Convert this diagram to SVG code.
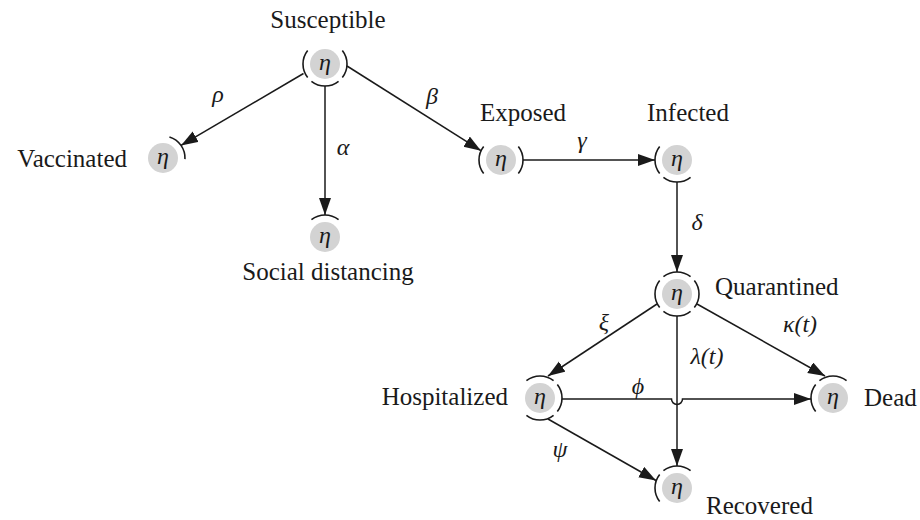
<svg xmlns="http://www.w3.org/2000/svg" width="920" height="520" viewBox="0 0 920 520">
<defs>
<style>
.lbl{font-family:"Liberation Serif","Times New Roman",serif;font-size:25px;fill:#1a1a1a}
.gr{font-family:"Liberation Serif","Times New Roman",serif;font-style:italic;font-size:24px;fill:#1a1a1a;text-anchor:middle}
.eta{font-family:"Liberation Serif","Times New Roman",serif;font-style:italic;font-size:24px;fill:#1a1a1a;text-anchor:middle}
.dot{fill:#d3d3d3}
.port{fill:none;stroke:#1a1a1a;stroke-width:1.6}
.edge{fill:none;stroke:#1a1a1a;stroke-width:1.5;marker-end:url(#ah)}
</style>
<marker id="ah" markerUnits="userSpaceOnUse" markerWidth="18" markerHeight="13" refX="17" refY="6" orient="auto">
<path d="M0,0 L17,6 L0,12 z" fill="#1a1a1a"/>
</marker>
<path id="port" d="M 17.34 -13.55 A 22 22 0 0 1 17.34 13.55"/>
</defs>

<g id="connectors">
<line class="edge" x1="303.5" y1="73.5" x2="181" y2="145.4"/>
<line class="edge" x1="325" y1="86" x2="325" y2="215"/>
<line class="edge" x1="347" y1="66" x2="481" y2="150.7"/>
<line class="edge" x1="523" y1="160" x2="655" y2="160"/>
<line class="edge" x1="677" y1="182" x2="677" y2="272"/>
<line class="edge" x1="657" y1="304" x2="548" y2="376"/>
<line class="edge" x1="697" y1="304" x2="825" y2="376"/>
<line class="edge" x1="677" y1="316" x2="677" y2="466"/>
<path class="edge" d="M 562 399 H 671.5 A 5.5 5.5 0 0 0 682.5 399 H 811"/>
<line class="edge" x1="548" y1="419" x2="656" y2="480.5"/>
<text class="gr" x="218" y="102">ρ</text>
<text class="gr" x="432" y="104">β</text>
<text class="gr" x="343" y="155">α</text>
<text class="gr" x="582" y="148">γ</text>
<text class="gr" x="697" y="230">δ</text>
<text class="gr" x="604" y="330">ξ</text>
<text class="gr" x="800" y="332">κ(t)</text>
<text class="gr" x="707" y="364">λ(t)</text>
<text class="gr" x="638" y="394">ϕ</text>
<text class="gr" x="560" y="457">ψ</text>
</g>

<g id="susceptible">
<circle class="dot" cx="325" cy="64" r="15"/>
<text class="eta" x="325" y="70">η</text>
<use href="#port" class="port" transform="translate(325,64) rotate(180)"/>
<use href="#port" class="port" transform="translate(325,64)"/>
<use href="#port" class="port" transform="translate(325,64) rotate(90)"/>
<text class="lbl" x="328" y="28" text-anchor="middle">Susceptible</text>
</g>

<g id="vaccinated">
<circle class="dot" cx="163" cy="158" r="15"/>
<text class="eta" x="163" y="164">η</text>
<use href="#port" class="port" transform="translate(163,158) rotate(-35)"/>
<text class="lbl" x="127" y="167" text-anchor="end">Vaccinated</text>
</g>

<g id="social-distancing">
<circle class="dot" cx="325" cy="237" r="15"/>
<text class="eta" x="325" y="243">η</text>
<use href="#port" class="port" transform="translate(325,237) rotate(-90)"/>
<text class="lbl" x="328" y="280" text-anchor="middle">Social distancing</text>
</g>

<g id="exposed">
<circle class="dot" cx="501" cy="160" r="15"/>
<text class="eta" x="501" y="166">η</text>
<use href="#port" class="port" transform="translate(501,160) rotate(180)"/>
<use href="#port" class="port" transform="translate(501,160)"/>
<text class="lbl" x="523" y="121" text-anchor="middle">Exposed</text>
</g>

<g id="infected">
<circle class="dot" cx="677" cy="160" r="15"/>
<text class="eta" x="677" y="166">η</text>
<use href="#port" class="port" transform="translate(677,160) rotate(180)"/>
<use href="#port" class="port" transform="translate(677,160) rotate(90)"/>
<text class="lbl" x="688" y="121" text-anchor="middle">Infected</text>
</g>

<g id="quarantined">
<circle class="dot" cx="677" cy="294" r="15"/>
<text class="eta" x="677" y="300">η</text>
<use href="#port" class="port" transform="translate(677,294) rotate(-90)"/>
<use href="#port" class="port" transform="translate(677,294) rotate(180)"/>
<use href="#port" class="port" transform="translate(677,294)"/>
<use href="#port" class="port" transform="translate(677,294) rotate(90)"/>
<text class="lbl" x="715" y="295">Quarantined</text>
</g>

<g id="hospitalized">
<circle class="dot" cx="540" cy="398" r="15"/>
<text class="eta" x="540" y="404">η</text>
<use href="#port" class="port" transform="translate(540,398) rotate(-90)"/>
<use href="#port" class="port" transform="translate(540,398)"/>
<use href="#port" class="port" transform="translate(540,398) rotate(90)"/>
<text class="lbl" x="508" y="405" text-anchor="end">Hospitalized</text>
</g>

<g id="dead">
<circle class="dot" cx="833" cy="398" r="15"/>
<text class="eta" x="833" y="404">η</text>
<use href="#port" class="port" transform="translate(833,398) rotate(-90)"/>
<use href="#port" class="port" transform="translate(833,398) rotate(180)"/>
<text class="lbl" x="864" y="406">Dead</text>
</g>

<g id="recovered">
<circle class="dot" cx="677" cy="488" r="15"/>
<text class="eta" x="677" y="494">η</text>
<use href="#port" class="port" transform="translate(677,488) rotate(-90)"/>
<use href="#port" class="port" transform="translate(677,488) rotate(180)"/>
<text class="lbl" x="706" y="514">Recovered</text>
</g>
</svg>
